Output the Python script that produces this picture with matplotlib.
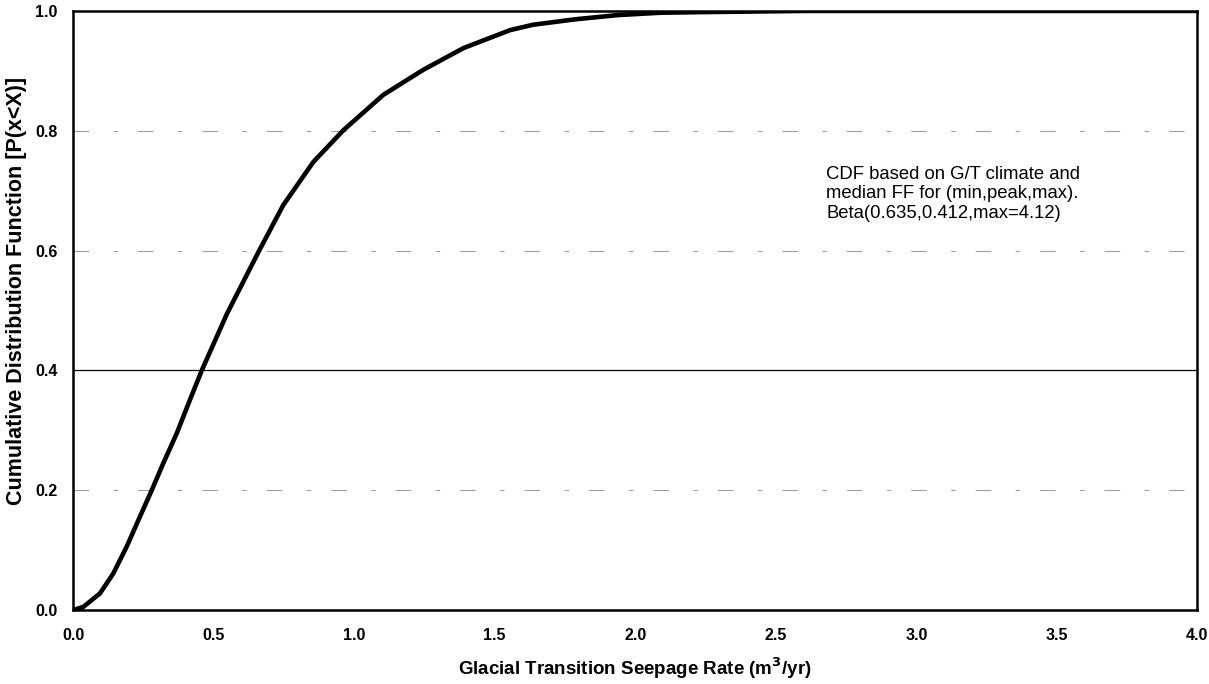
import matplotlib
matplotlib.use('Agg')
import numpy as np
import matplotlib.pyplot as plt

# CDF of glacial transition seepage rate
seepage = [0.0, 0.037, 0.096, 0.143, 0.191, 0.238, 0.280, 0.321, 0.369, 0.416,
           0.458, 0.547, 0.660, 0.748, 0.855, 0.962, 1.104, 1.247, 1.389, 1.555,
           1.637, 1.786, 1.936, 2.089, 2.23, 2.6, 3.0, 3.5, 4.0]
cdf = [0.0, 0.0055, 0.028, 0.061, 0.106, 0.156, 0.200, 0.245, 0.295, 0.351,
       0.400, 0.494, 0.598, 0.676, 0.748, 0.801, 0.860, 0.902, 0.938, 0.968,
       0.977, 0.986, 0.993, 0.997, 0.998, 1.0, 1.0, 1.0, 1.0]

x_ticks = [0.0, 0.5, 1.0, 1.5, 2.0, 2.5, 3.0, 3.5, 4.0]
y_ticks = [0.0, 0.2, 0.4, 0.6, 0.8, 1.0]

note = ("CDF based on G/T climate and\n"
        "median FF for (min,peak,max).\n"
        "Beta(0.635,0.412,max=4.12)")

plt.rcParams['font.family'] = ['Liberation Sans', 'DejaVu Sans']

fig = plt.figure(figsize=(12.09, 6.84), dpi=100)
ax = fig.add_axes([0.0604, 0.108, 0.930, 0.876])

# faint broken gridlines, the 0.4 line is solid
for yv in [0.2, 0.6, 0.8]:
    ax.axhline(yv, color='#a0a0a0', lw=0.8, ls=(0, (14, 22, 4, 18)), zorder=1)
ax.axhline(0.4, color='black', lw=0.9, zorder=1)

ax.plot(seepage, cdf, color='black', lw=3.3, solid_capstyle='round',
        solid_joinstyle='round', zorder=3)

ax.set_xlim(0, 4)
ax.set_ylim(0, 1)
ax.set_xticks(x_ticks)
ax.set_xticklabels([f"{v:.1f}" for v in x_ticks])
ax.set_yticks(y_ticks)
ax.set_yticklabels([f"{v:.1f}" for v in y_ticks])
ax.tick_params(axis='x', length=0, labelsize=11.5, pad=13)
ax.tick_params(axis='y', length=0, labelsize=11.5, pad=11)
for lbl in ax.get_xticklabels() + ax.get_yticklabels():
    lbl.set_fontweight('bold')

for s in ax.spines.values():
    s.set_linewidth(1.8)

ax.set_xlabel("Glacial Transition Seepage Rate (m$^\\mathbf{3}$/yr)",
              fontsize=13.5, fontweight='bold')
ax.xaxis.set_label_coords(0.5, -0.075)
ax.set_ylabel("Cumulative Distribution Function [P(x<X)]",
              fontsize=15.5, fontweight='bold')
ax.yaxis.set_label_coords(-0.041, 0.533)

ax.text(2.68, 0.742, note, fontsize=13.3, va='top', ha='left', linespacing=1.22)

fig.savefig("out.png", dpi=100)
